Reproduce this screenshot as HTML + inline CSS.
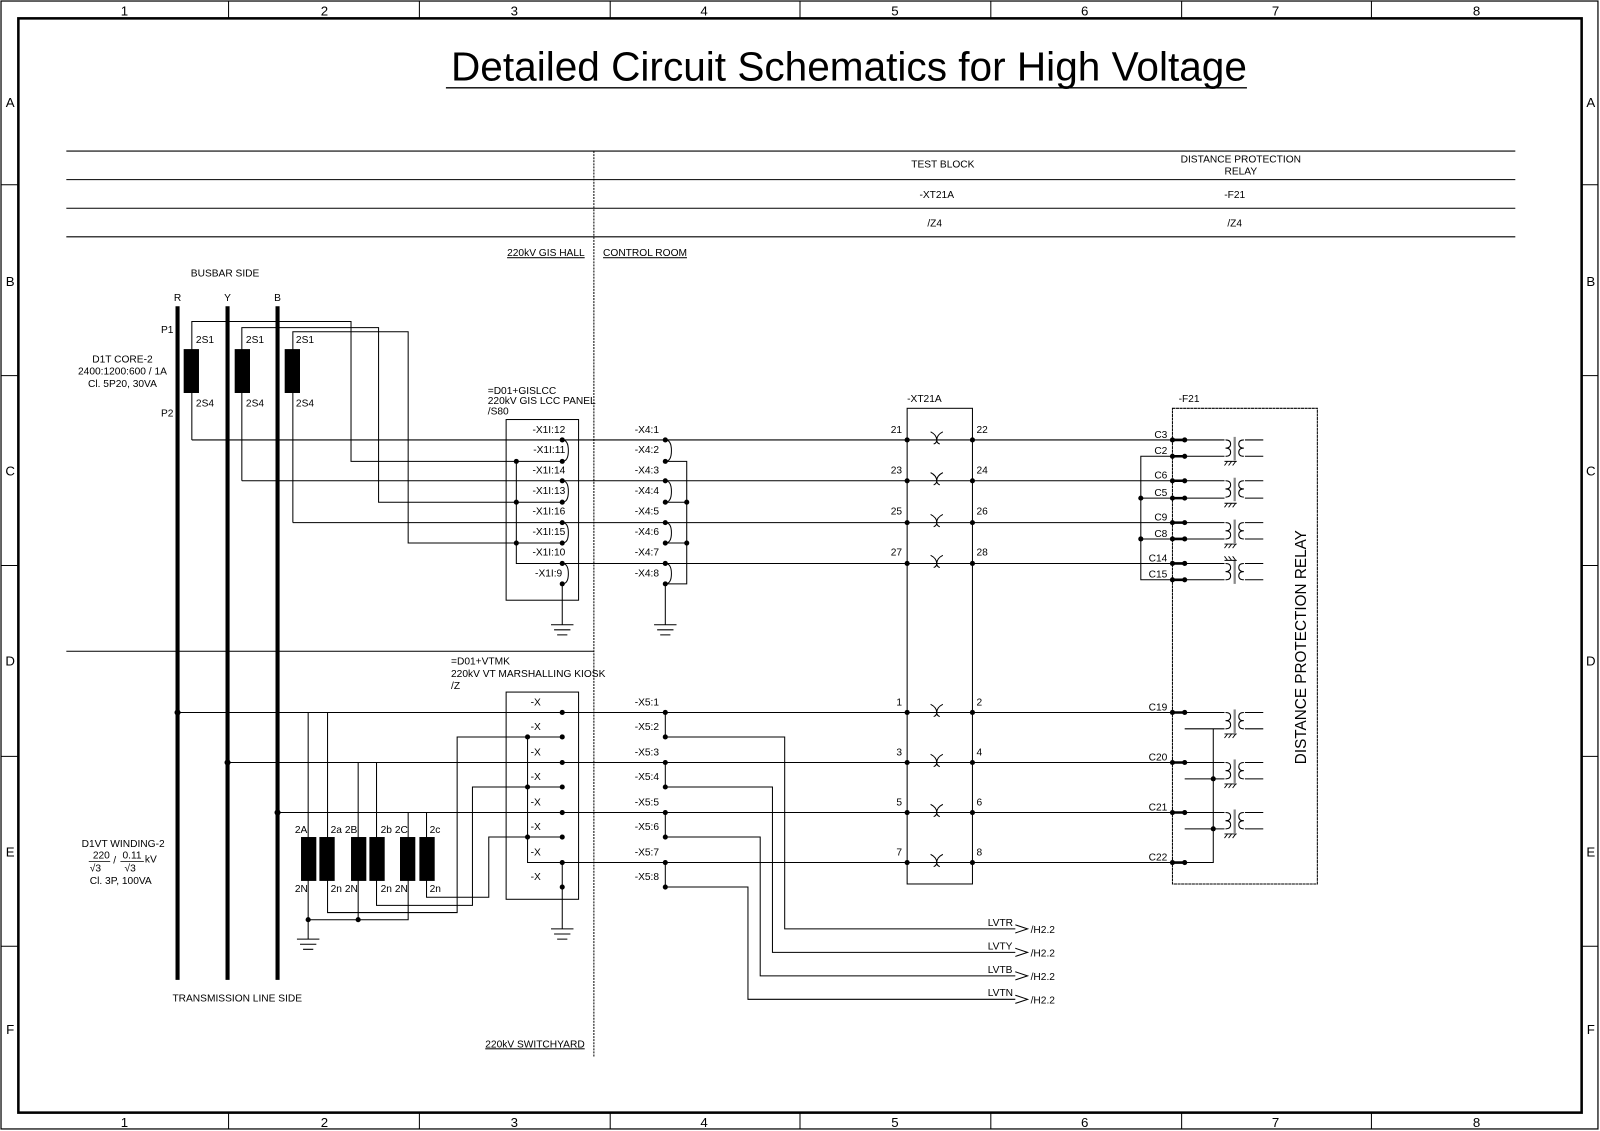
<!DOCTYPE html>
<html><head><meta charset="utf-8"><style>
html,body{margin:0;padding:0;background:#fff}
svg{display:block}
text{font-family:"Liberation Sans",sans-serif;fill:#000}
</style></head><body>
<svg width="1600" height="1131" viewBox="0 0 1568 1108" preserveAspectRatio="none" xmlns="http://www.w3.org/2000/svg">
<defs>
<g id="tx">
<rect x="1200" y="-2" width="20" height="20" fill="#fff" stroke="none"/>
<path d="M1201 0q5 0 5 4q0 4-5 4q5 0 5 4q0 4-5 4M1219 0q-5 0-5 4q0 4 5 4q-5 0-5 4q0 4 5 4" fill="none" stroke="#000" stroke-width="1"/>
<path d="M1210 -3V20" stroke="#888" stroke-width="2.2"/>
</g>
<path id="gnd" d="M1200 0H1212M1203 0l-3 4M1207 0l-3 4M1211 0l-3 4" fill="none" stroke="#000" stroke-width="0.9"/>
<path id="tb" d="M912 -8q6 3 6 8q0-5 6-8M915 4q3-1 3-4q0 3 3 4" fill="none" stroke="#000" stroke-width="1"/>
</defs>
<g fill="none" stroke="#000">
<rect x="1" y="1" width="1565" height="1105" stroke-width="1.2"/>
<rect x="18" y="18" width="1532" height="1072" stroke-width="2.5"/>
<path d="M224 1V18M411 1V18M598 1V18M784 1V18M971 1V18M1158 1V18M1344 1V18M224 1090V1106M411 1090V1106M598 1090V1106M784 1090V1106M971 1090V1106M1158 1090V1106M1344 1090V1106M1 181H18M1 368H18M1 554H18M1 741H18M1 927H18M1550 181H1566M1550 368H1566M1550 554H1566M1550 741H1566M1550 927H1566" stroke-width="1"/>
</g>
<g font-size="13" text-anchor="middle">
<text x="122" y="15">1</text><text x="318" y="15">2</text><text x="504" y="15">3</text><text x="690" y="15">4</text><text x="877" y="15">5</text><text x="1063" y="15">6</text><text x="1250" y="15">7</text><text x="1447" y="15">8</text>
<text x="122" y="1104">1</text><text x="318" y="1104">2</text><text x="504" y="1104">3</text><text x="690" y="1104">4</text><text x="877" y="1104">5</text><text x="1063" y="1104">6</text><text x="1250" y="1104">7</text><text x="1447" y="1104">8</text>
<text x="10" y="105">A</text><text x="10" y="280">B</text><text x="10" y="466">C</text><text x="10" y="652">D</text><text x="10" y="839">E</text><text x="10" y="1013">F</text>
<text x="1559" y="105">A</text><text x="1559" y="280">B</text><text x="1559" y="466">C</text><text x="1559" y="652">D</text><text x="1559" y="839">E</text><text x="1559" y="1013">F</text>
</g>
<text x="442" y="79" font-size="40" textLength="780" lengthAdjust="spacingAndGlyphs">Detailed Circuit Schematics for High Voltage</text>
<line x1="437" y1="86" x2="1222" y2="86" stroke="#000" stroke-width="1.3"/>

<g stroke="#000" stroke-width="1" fill="none">
<path d="M65 148H1485M65 176H1485M65 204H1485M65 232H1485M65 638H582"/>
<path d="M582 148V1035" stroke-dasharray="2 1"/>
</g>
<g font-size="10" text-anchor="middle">
<text x="924" y="164">TEST BLOCK</text>
<text x="1216" y="159">DISTANCE PROTECTION</text><text x="1216" y="171">RELAY</text>
<text x="918" y="194">-XT21A</text><text x="1210" y="194">-F21</text>
<text x="916" y="222">/Z4</text><text x="1210" y="222">/Z4</text>
</g>
<g font-size="10">
<text x="573" y="251" text-anchor="end" text-decoration="underline">220kV GIS HALL</text>
<text x="591" y="251" text-decoration="underline">CONTROL ROOM</text>
<text x="573" y="1026" text-anchor="end" text-decoration="underline">220kV SWITCHYARD</text>
<text x="187" y="271">BUSBAR SIDE</text>
<text x="174" y="295" text-anchor="middle">R</text><text x="223" y="295" text-anchor="middle">Y</text><text x="272" y="295" text-anchor="middle">B</text>
<text x="170" y="326" text-anchor="end">P1</text><text x="170" y="408" text-anchor="end">P2</text>
<text x="120" y="355" text-anchor="middle">D1T CORE-2</text>
<text x="120" y="367" text-anchor="middle">2400:1200:600 / 1A</text>
<text x="120" y="379" text-anchor="middle">Cl. 5P20, 30VA</text>
<text x="192" y="336">2S1</text><text x="241" y="336">2S1</text><text x="290" y="336">2S1</text>
<text x="192" y="398">2S4</text><text x="241" y="398">2S4</text><text x="290" y="398">2S4</text>
<text x="478" y="386">=D01+GISLCC</text><text x="478" y="396">220kV GIS LCC PANEL</text><text x="478" y="406">/S80</text>
<text x="442" y="651">=D01+VTMK</text><text x="442" y="663">220kV VT MARSHALLING KIOSK</text><text x="442" y="675">/Z</text>
<text x="169" y="981">TRANSMISSION LINE SIDE</text>
<text x="80" y="830">D1VT WINDING-2</text>
<text x="91" y="841">220</text><text x="120" y="841">0.11</text><text x="142" y="845">kV</text>
<text x="88" y="854">√3</text><text x="122" y="854">√3</text><text x="111" y="846">/</text>
<text x="88" y="866">Cl. 3P, 100VA</text>
<text x="889" y="394">-XT21A</text><text x="1155" y="394">-F21</text>
</g>
<g stroke="#000" stroke-width="0.8"><path d="M87 844H108M118 844H141"/></g>

<g stroke="#000" stroke-width="4"><path d="M174 300V960M223 300V960M272 300V960"/></g>
<g fill="#000"><rect x="180" y="342" width="15" height="43"/><rect x="230" y="342" width="15" height="43"/><rect x="279" y="342" width="15" height="43"/></g>

<g stroke="#000" stroke-width="1" fill="none">
<path d="M188 431V315H344V452H551"/>
<path d="M188 431H551"/>
<path d="M237 471V321H371V492H551"/>
<path d="M237 471H551"/>
<path d="M287 512V325H400V532H551"/>
<path d="M287 512H551"/>
<path d="M506 452V552H551"/>
<rect x="496" y="411" width="71" height="177"/>
<path d="M551 431q6 0 6 10.5q0 10.5-6 10.5M551 471q6 0 6 10.5q0 10.5-6 10.5M551 512q6 0 6 10q0 10-6 10M551 552q6 0 6 10q0 10-6 10"/>
<path d="M551 572V612M540 612H562M543 617H559M546 622H556"/>
<path d="M551 431H1149M551 471H1149M551 512H1149M551 552H1149"/>
<path d="M652 452H673V572H652M652 492H673M652 532H673"/>
<path d="M652 431q6 0 6 10.5q0 10.5-6 10.5M652 471q6 0 6 10.5q0 10.5-6 10.5M652 512q6 0 6 10q0 10-6 10M652 552q6 0 6 10q0 10-6 10"/>
<path d="M652 572V612M641 612H663M644 617H660M647 622H657"/>
<rect x="889" y="400" width="64" height="466"/>
<rect x="1149" y="400" width="142" height="466" stroke-dasharray="3 0.5"/>
<path d="M1149 447H1118V568H1149M1118 488H1149M1118 528H1149"/>
<path d="M1161 431H1238M1161 447H1238M1161 471H1238M1161 488H1238M1161 512H1238M1161 528H1238M1161 552H1238M1161 568H1238"/>
<path d="M1161 698H1238M1161 714H1238M1161 747H1238M1161 763H1238M1161 796H1238M1161 812H1238M1161 845H1189V714"/>
<path d="M174 698H551M223 747H551M272 796H551"/>
<rect x="496" y="678" width="71" height="203"/>
<path d="M517 722V845H551M517 722H551M517 771H551M517 820H551"/>
<path d="M551 845V910M540 910H562M543 915H559M546 920H556"/>
<path d="M302 698V920M291 920H313M294 925H310M297 930H307"/>
<path d="M302 901H400V796"/>
<path d="M351 747V901"/>
<path d="M321 698V894H448V722H517"/>
<path d="M369 747V887H463V771H517"/>
<path d="M418 796V879H479V820H517"/>
<path d="M652 698V722M652 747V771M652 796V820M652 845V869"/>
<path d="M551 698H1149M551 747H1149M551 796H1149M551 845H1149"/>
<path d="M652 722H769V910H995M652 771H757V933H995M652 820H745V956H995M652 869H733V979H995"/>
<path d="M995 906L1007 910L995 914M995 929L1007 933L995 937M995 952L1007 956L995 960M995 975L1007 979L995 983"/>
</g>
<g fill="#000">
<rect x="295" y="820" width="15" height="43"/><rect x="313" y="820" width="15" height="43"/>
<rect x="344" y="820" width="15" height="43"/><rect x="362" y="820" width="15" height="43"/>
<rect x="392" y="820" width="15" height="43"/><rect x="411" y="820" width="15" height="43"/>
</g>
<g font-size="10">
<text x="289" y="816">2A</text><text x="324" y="816">2a</text><text x="338" y="816">2B</text><text x="373" y="816">2b</text><text x="387" y="816">2C</text><text x="421" y="816">2c</text>
<text x="289" y="874">2N</text><text x="324" y="874">2n</text><text x="338" y="874">2N</text><text x="373" y="874">2n</text><text x="387" y="874">2N</text><text x="421" y="874">2n</text>
</g>
<g fill="#000">
<circle cx="551" cy="431" r="2.5"/><circle cx="551" cy="452" r="2.5"/><circle cx="551" cy="471" r="2.5"/><circle cx="551" cy="492" r="2.5"/><circle cx="551" cy="512" r="2.5"/><circle cx="551" cy="532" r="2.5"/><circle cx="551" cy="552" r="2.5"/><circle cx="551" cy="572" r="2.5"/>
<circle cx="506" cy="452" r="2.5"/><circle cx="506" cy="492" r="2.5"/><circle cx="506" cy="532" r="2.5"/>
<circle cx="652" cy="431" r="2.5"/><circle cx="652" cy="452" r="2.5"/><circle cx="652" cy="471" r="2.5"/><circle cx="652" cy="492" r="2.5"/><circle cx="652" cy="512" r="2.5"/><circle cx="652" cy="532" r="2.5"/><circle cx="652" cy="552" r="2.5"/><circle cx="652" cy="572" r="2.5"/>
<circle cx="673" cy="492" r="2.5"/><circle cx="673" cy="532" r="2.5"/>
<circle cx="889" cy="431" r="2.5"/><circle cx="953" cy="431" r="2.5"/><circle cx="889" cy="471" r="2.5"/><circle cx="953" cy="471" r="2.5"/><circle cx="889" cy="512" r="2.5"/><circle cx="953" cy="512" r="2.5"/><circle cx="889" cy="552" r="2.5"/><circle cx="953" cy="552" r="2.5"/>
<circle cx="889" cy="698" r="2.5"/><circle cx="953" cy="698" r="2.5"/><circle cx="889" cy="747" r="2.5"/><circle cx="953" cy="747" r="2.5"/><circle cx="889" cy="796" r="2.5"/><circle cx="953" cy="796" r="2.5"/><circle cx="889" cy="845" r="2.5"/><circle cx="953" cy="845" r="2.5"/>
<circle cx="1118" cy="488" r="2.5"/><circle cx="1118" cy="528" r="2.5"/><circle cx="1189" cy="763" r="2.5"/><circle cx="1189" cy="812" r="2.5"/>
<circle cx="174" cy="698" r="3"/><circle cx="223" cy="747" r="3"/><circle cx="272" cy="796" r="3"/>
<circle cx="302" cy="901" r="2.5"/><circle cx="351" cy="901" r="2.5"/>
<circle cx="551" cy="698" r="2.5"/><circle cx="551" cy="722" r="2.5"/><circle cx="551" cy="747" r="2.5"/><circle cx="551" cy="771" r="2.5"/><circle cx="551" cy="796" r="2.5"/><circle cx="551" cy="820" r="2.5"/><circle cx="551" cy="845" r="2.5"/><circle cx="551" cy="869" r="2.5"/>
<circle cx="517" cy="722" r="2.5"/><circle cx="517" cy="771" r="2.5"/><circle cx="517" cy="820" r="2.5"/>
<circle cx="652" cy="698" r="2.5"/><circle cx="652" cy="722" r="2.5"/><circle cx="652" cy="747" r="2.5"/><circle cx="652" cy="771" r="2.5"/><circle cx="652" cy="796" r="2.5"/><circle cx="652" cy="820" r="2.5"/><circle cx="652" cy="845" r="2.5"/><circle cx="652" cy="869" r="2.5"/>
</g>
<g stroke="#000" stroke-width="2.5">
<path d="M1149 431H1161M1149 447H1161M1149 471H1161M1149 488H1161M1149 512H1161M1149 528H1161M1149 552H1161M1149 568H1161M1149 698H1161M1149 747H1161M1149 796H1161M1149 845H1161"/>
</g>
<g fill="#000">
<circle cx="1149" cy="431" r="2.5"/><circle cx="1161" cy="431" r="2.5"/><circle cx="1149" cy="447" r="2.5"/><circle cx="1161" cy="447" r="2.5"/>
<circle cx="1149" cy="471" r="2.5"/><circle cx="1161" cy="471" r="2.5"/><circle cx="1149" cy="488" r="2.5"/><circle cx="1161" cy="488" r="2.5"/>
<circle cx="1149" cy="512" r="2.5"/><circle cx="1161" cy="512" r="2.5"/><circle cx="1149" cy="528" r="2.5"/><circle cx="1161" cy="528" r="2.5"/>
<circle cx="1149" cy="552" r="2.5"/><circle cx="1161" cy="552" r="2.5"/><circle cx="1149" cy="568" r="2.5"/><circle cx="1161" cy="568" r="2.5"/>
<circle cx="1149" cy="698" r="2.5"/><circle cx="1161" cy="698" r="2.5"/><circle cx="1149" cy="747" r="2.5"/><circle cx="1161" cy="747" r="2.5"/>
<circle cx="1149" cy="796" r="2.5"/><circle cx="1161" cy="796" r="2.5"/><circle cx="1149" cy="845" r="2.5"/><circle cx="1161" cy="845" r="2.5"/>
</g>
<!-- relay transformers -->
<use href="#tx" transform="translate(0 431)"/>
<use href="#tx" transform="translate(0 471)"/>
<use href="#tx" transform="translate(0 512)"/>
<use href="#tx" transform="translate(0 552)"/>
<use href="#tx" transform="translate(0 698)"/>
<use href="#tx" transform="translate(0 747)"/>
<use href="#tx" transform="translate(0 796)"/>
<use href="#gnd" transform="translate(0 452)"/>
<use href="#gnd" transform="translate(0 493)"/>
<use href="#gnd" transform="translate(0 533)"/>
<use href="#gnd" transform="translate(0 549) scale(1 -1)"/>
<use href="#gnd" transform="translate(0 719)"/>
<use href="#gnd" transform="translate(0 768)"/>
<use href="#gnd" transform="translate(0 817)"/>
<!-- test block links -->
<use href="#tb" transform="translate(0 431)"/>
<use href="#tb" transform="translate(0 471)"/>
<use href="#tb" transform="translate(0 512)"/>
<use href="#tb" transform="translate(0 552)"/>
<use href="#tb" transform="translate(0 698)"/>
<use href="#tb" transform="translate(0 747)"/>
<use href="#tb" transform="translate(0 796)"/>
<use href="#tb" transform="translate(0 845)"/>
<g font-size="10">
<g text-anchor="end">
<text x="554" y="424">-X1I:12</text><text x="554" y="444">-X1I:11</text><text x="554" y="464">-X1I:14</text><text x="554" y="484">-X1I:13</text><text x="554" y="504">-X1I:16</text><text x="554" y="524">-X1I:15</text><text x="554" y="544">-X1I:10</text><text x="551" y="565">-X1I:9</text>
<text x="884" y="424">21</text><text x="884" y="464">23</text><text x="884" y="504">25</text><text x="884" y="544">27</text>
<text x="884" y="691">1</text><text x="884" y="740">3</text><text x="884" y="789">5</text><text x="884" y="838">7</text>
<text x="1144" y="429">C3</text><text x="1144" y="445">C2</text><text x="1144" y="469">C6</text><text x="1144" y="486">C5</text><text x="1144" y="510">C9</text><text x="1144" y="526">C8</text><text x="1144" y="550">C14</text><text x="1144" y="566">C15</text>
<text x="1144" y="696">C19</text><text x="1144" y="745">C20</text><text x="1144" y="794">C21</text><text x="1144" y="843">C22</text>
</g>
<text x="622" y="424">-X4:1</text><text x="622" y="444">-X4:2</text><text x="622" y="464">-X4:3</text><text x="622" y="484">-X4:4</text><text x="622" y="504">-X4:5</text><text x="622" y="524">-X4:6</text><text x="622" y="544">-X4:7</text><text x="622" y="565">-X4:8</text>
<text x="957" y="424">22</text><text x="957" y="464">24</text><text x="957" y="504">26</text><text x="957" y="544">28</text>
<text x="957" y="691">2</text><text x="957" y="740">4</text><text x="957" y="789">6</text><text x="957" y="838">8</text>
<g text-anchor="middle"><text x="525" y="691">-X</text><text x="525" y="715">-X</text><text x="525" y="740">-X</text><text x="525" y="764">-X</text><text x="525" y="789">-X</text><text x="525" y="813">-X</text><text x="525" y="838">-X</text><text x="525" y="862">-X</text></g>
<text x="622" y="691">-X5:1</text><text x="622" y="715">-X5:2</text><text x="622" y="740">-X5:3</text><text x="622" y="764">-X5:4</text><text x="622" y="789">-X5:5</text><text x="622" y="813">-X5:6</text><text x="622" y="838">-X5:7</text><text x="622" y="862">-X5:8</text>
<text x="968" y="907">LVTR</text><text x="968" y="930">LVTY</text><text x="968" y="953">LVTB</text><text x="968" y="976">LVTN</text>
<text x="1010" y="914">/H2.2</text><text x="1010" y="937">/H2.2</text><text x="1010" y="960">/H2.2</text><text x="1010" y="983">/H2.2</text>
</g>
<text x="0" y="0" font-size="15" text-anchor="middle" transform="translate(1280 634) rotate(-90)">DISTANCE PROTECTION RELAY</text>
</svg>
</body></html>
